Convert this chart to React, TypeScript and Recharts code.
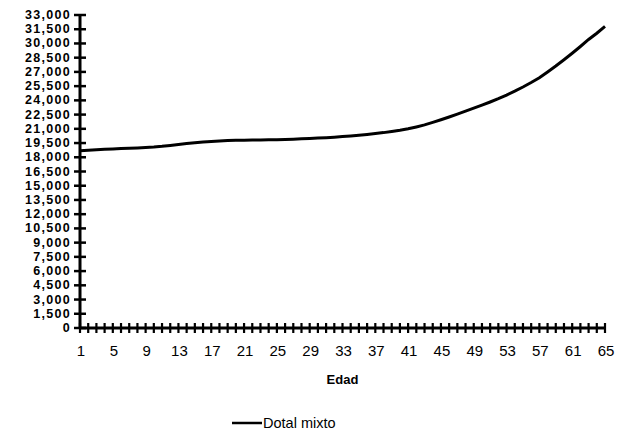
import React from 'react';
import { LineChart, Line, XAxis, YAxis } from 'recharts';

const ages = [
  1, 2, 3, 4, 5, 6, 7, 8, 9, 10, 11, 12, 13, 14, 15, 16, 17, 18, 19, 20,
  21, 22, 23, 24, 25, 26, 27, 28, 29, 30, 31, 32, 33, 34, 35, 36, 37, 38, 39, 40,
  41, 42, 43, 44, 45, 46, 47, 48, 49, 50, 51, 52, 53, 54, 55, 56, 57, 58, 59, 60,
  61, 62, 63, 64, 65,
];

const dotalMixto = [
  18700, 18750, 18800, 18850, 18880, 18920, 18950, 18990, 19030, 19080,
  19150, 19250, 19350, 19450, 19530, 19600, 19660, 19720, 19760, 19790,
  19800, 19810, 19820, 19840, 19860, 19880, 19910, 19940, 19980, 20020,
  20070, 20120, 20180, 20250, 20330, 20410, 20500, 20600, 20720, 20850,
  21000, 21200, 21420, 21680, 21960, 22250, 22550, 22860, 23180, 23500,
  23830, 24180, 24560, 24970, 25410, 25880, 26380, 27000, 27620, 28280,
  28970, 29680, 30420, 31080, 31800,
];

const yTicks = [
  0, 1500, 3000, 4500, 6000, 7500, 9000, 10500, 12000, 13500, 15000, 16500,
  18000, 19500, 21000, 22500, 24000, 25500, 27000, 28500, 30000, 31500, 33000,
];

const seriesName = 'Dotal mixto';
const xAxisTitle = 'Edad';

const data = ages.map((age, i) => ({ age, value: dotalMixto[i] }));

const FONT = '"Liberation Sans", Arial, sans-serif';

const fmt = (v: number) => v.toLocaleString('en-US');

function XTick(props: any) {
  const { x, y, payload } = props;
  const show = (payload.value - 1) % 4 === 0;
  return (
    <g>
      <line x1={x} x2={x} y1={y - 5} y2={y + 5} stroke="#000" strokeWidth={2.2} />
      {show && (
        <text
          x={x + 1}
          y={y + 22}
          textAnchor="middle"
          dominantBaseline="central"
          fontSize={15}
          fontFamily={FONT}
          fill="#000"
        >
          {payload.value}
        </text>
      )}
    </g>
  );
}

function YTick(props: any) {
  const { x, y, payload } = props;
  return (
    <g>
      <line x1={x - 6} x2={x + 6} y1={y} y2={y} stroke="#000" strokeWidth={2.5} />
      <text
        x={x - 9}
        y={y}
        textAnchor="end"
        dominantBaseline="central"
        fontSize={12.5}
        fontWeight="bold"
        letterSpacing={1.3}
        fontFamily={FONT}
        fill="#000"
      >
        {fmt(payload.value)}
      </text>
    </g>
  );
}

export default function App() {
  return (
    <div style={{ position: 'absolute', left: 0, top: 0, width: 619, height: 435, background: '#fff' }}>
      <LineChart
        width={619}
        height={435}
        data={data}
        margin={{ top: 15, right: 14, left: 0, bottom: 0 }}
      >
        <XAxis
          dataKey="age"
          type="category"
          interval={0}
          height={107}
          tickSize={0}
          tickMargin={0}
          tickLine={false}
          tick={<XTick />}
          axisLine={{ stroke: '#000', strokeWidth: 3 }}
          label={{
            value: xAxisTitle,
            position: 'insideTop',
            offset: 47,
            fontSize: 13,
            fontWeight: 'bold',
            fontFamily: FONT,
            fill: '#000',
          }}
        />
        <YAxis
          width={80}
          domain={[0, 33000]}
          ticks={yTicks}
          interval={0}
          tickSize={0}
          tickMargin={0}
          tickLine={false}
          tick={<YTick />}
          axisLine={{ stroke: '#000', strokeWidth: 3 }}
        />
        <Line
          dataKey="value"
          name={seriesName}
          stroke="#000"
          strokeWidth={3}
          dot={false}
          isAnimationActive={false}
        />
      </LineChart>
      <svg
        width={619}
        height={435}
        style={{ position: 'absolute', left: 0, top: 0, pointerEvents: 'none' }}
      >
        <line x1={232} x2={262} y1={423} y2={423} stroke="#000" strokeWidth={2.5} />
        <text
          x={263}
          y={423}
          dominantBaseline="central"
          fontSize={14.5}
          fontFamily={FONT}
          fill="#000"
        >
          {seriesName}
        </text>
      </svg>
    </div>
  );
}
